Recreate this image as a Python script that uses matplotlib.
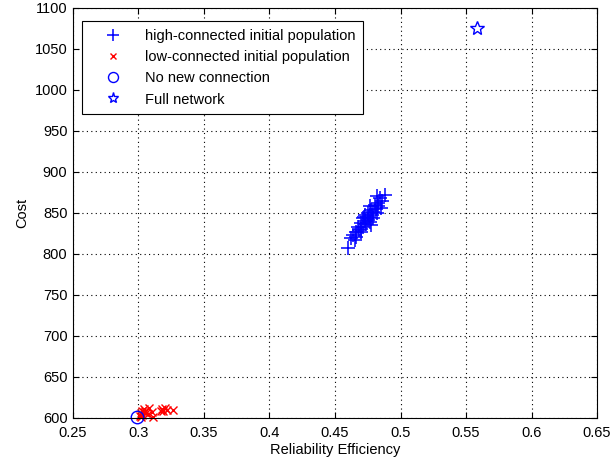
import numpy as np
import matplotlib.pyplot as plt
from matplotlib.ticker import FormatStrFormatter

plt.rcParams['font.family'] = ['Liberation Sans', 'DejaVu Sans']

# high-connected initial population
hi_x = [0.4599, 0.4622, 0.4637, 0.4660, 0.4676, 0.4698, 0.4714, 0.4729, 0.4752, 0.4775,
        0.4767, 0.4790, 0.4805, 0.4828, 0.4844, 0.4882, 0.4821, 0.4851, 0.4775, 0.4698,
        0.4653, 0.468, 0.471, 0.473, 0.474, 0.476, 0.478, 0.479, 0.481, 0.482,
        0.475, 0.470, 0.466, 0.472, 0.477, 0.483, 0.486]
hi_y = [807, 819, 823, 827, 833, 838, 844, 848, 850, 854,
        839, 844, 860, 862, 868, 872, 871, 856, 835, 827,
        817, 829, 833, 840, 836, 845, 848, 851, 855, 850,
        842, 830, 821, 845, 858, 858, 864]

# low-connected initial population
lo_x = [0.301, 0.302, 0.303, 0.304, 0.305, 0.306, 0.303, 0.308, 0.311, 0.307,
        0.318, 0.319, 0.320, 0.322, 0.326, 0.317, 0.310, 0.302, 0.304]
lo_y = [603, 606, 604, 607, 608, 606, 609, 612, 601, 605,
        611, 609, 612, 610, 610, 608, 607, 601, 611]

# reference points
none_x, none_y = [0.299], [601]
full_x, full_y = [0.558], [1075]

fig = plt.figure(figsize=(6.13, 4.67), dpi=100)
ax = fig.add_axes([0.119, 0.105, 0.855, 0.878])

ax.plot(hi_x, hi_y, '+', color='b', ms=10, mew=1.1, clip_on=False,
        label='high-connected initial population')
ax.plot(lo_x, lo_y, 'x', color='r', ms=6, mew=1.0, clip_on=False,
        label='low-connected initial population')
ax.plot(none_x, none_y, 'o', color='b', mfc='none', ms=9, mew=1.0, clip_on=False,
        label='No new connection')
ax.plot(full_x, full_y, '*', color='b', mfc='none', ms=10, mew=1.0, clip_on=False,
        label='Full network')

ax.set_xlim(0.25, 0.65)
ax.set_ylim(600, 1100)
ax.set_xticks(np.arange(0.25, 0.651, 0.05))
ax.set_yticks(np.arange(600, 1101, 50))
ax.xaxis.set_major_formatter(FormatStrFormatter('%g'))
ax.tick_params(direction='in', top=True, right=True, labelsize=10.5, length=4)
ax.tick_params(axis='x', pad=6)
ax.tick_params(axis='y', pad=4)
ax.grid(True, linestyle=(0, (1, 3)), color='k', linewidth=0.8)
ax.set_xlabel('Reliability Efficiency', fontsize=10.5, labelpad=2)
ax.set_ylabel('Cost', fontsize=10.5)

leg = ax.legend(loc='upper left', bbox_to_anchor=(0.004, 0.985), fontsize=10.5,
                frameon=True, fancybox=False, edgecolor='k', framealpha=1,
                handlelength=3.2, handletextpad=0.6, borderpad=0.5, labelspacing=0.5,
                markerscale=0.8)
leg.get_frame().set_linewidth(0.8)

fig.savefig('out.png', dpi=100)
